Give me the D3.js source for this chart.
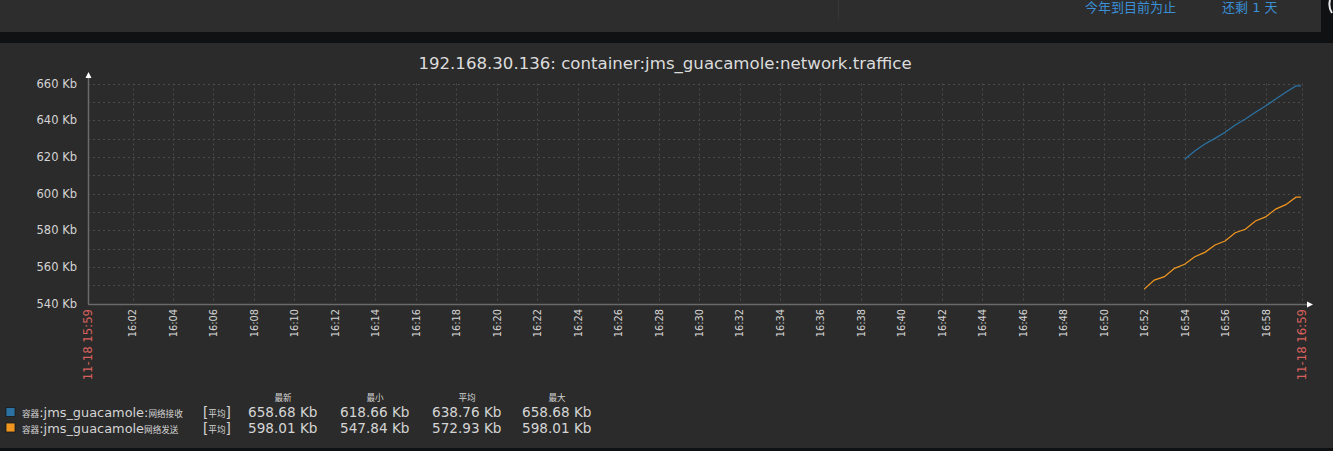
<!DOCTYPE html>
<html>
<head>
<meta charset="utf-8">
<script src="https://cdn.jsdelivr.net/npm/d3@7"></script>
<style>
  html, body { margin: 0; padding: 0; background: #0f1113; }
  svg { display: block; }
  text { font-family: "DejaVu Sans", "Noto Sans CJK SC", sans-serif; }
</style>
</head>
<body>
<svg id="chart" width="1333" height="451"></svg>
<script>
// ---------------- data ----------------
const chartTitle = "192.168.30.136: container:jms_guacamole:network.traffice";
const timeStart = "2023-11-18 15:59:48";
const timeEnd = "2023-11-18 16:59:48";
const startLabel = "11-18 15:59";
const endLabel = "11-18 16:59";
const xTickTimes = ["16:02","16:04","16:06","16:08","16:10","16:12","16:14","16:16","16:18","16:20",
  "16:22","16:24","16:26","16:28","16:30","16:32","16:34","16:36","16:38","16:40",
  "16:42","16:44","16:46","16:48","16:50","16:52","16:54","16:56","16:58"];
const yTicks = [540, 560, 580, 600, 620, 640, 660];
const yMinorTicks = [550, 570, 590, 610, 630, 650];
const yDomain = [540, 660];

// legend names split into [cjk, latin, cjk] parts
const seriesNameParts = [
  ["容器", ":jms_guacamole:", "网络接收"],
  ["容器", ":jms_guacamole", "网络发送"]
];
const seriesFunc = ["平均", "平均"];
const statHeaders = ["最新", "最小", "平均", "最大"];
const statValues = [
  ["658.68 Kb", "618.66 Kb", "638.76 Kb", "658.68 Kb"],
  ["598.01 Kb", "547.84 Kb", "572.93 Kb", "598.01 Kb"]
];

const blueTimes = ["16:54:00","16:54:30","16:55:00","16:55:30","16:56:00","16:56:30","16:57:00",
  "16:57:30","16:58:00","16:58:30","16:59:00","16:59:30","16:59:45"];
const blueValues = [618.66, 623.2, 627.0, 630.1, 633.4, 637.4, 640.6, 644.3, 647.7, 651.5, 655.2, 658.68, 658.68];

const orangeTimes = ["16:52:00","16:52:30","16:53:00","16:53:30","16:54:00","16:54:30","16:55:00",
  "16:55:30","16:56:00","16:56:30","16:57:00","16:57:30","16:58:00","16:58:30","16:59:00","16:59:30","16:59:45"];
const orangeValues = [547.84, 552.8, 554.6, 559.2, 561.4, 565.5, 567.9, 571.9, 574.1, 578.6, 580.5,
  585.0, 587.2, 591.5, 593.9, 598.01, 598.01];

const topLinks = ["今年到目前为止", "还剩 1 天"];

// ---------------- styles ----------------
const colors = { blue: "#2b72a3", orange: "#f0951f" };
const seriesColors = [colors.blue, colors.orange];

// ---------------- drawing ----------------
const svg = d3.select("#chart");
const parseFull = d3.timeParse("%Y-%m-%d %H:%M:%S");
const parseHM = s => parseFull("2023-11-18 " + s + ":00");
const parseHMS = s => parseFull("2023-11-18 " + s);

// backgrounds
svg.append("rect").attr("x", 0).attr("y", 0).attr("width", 1333).attr("height", 451).attr("fill", "#0f1113");
svg.append("rect").attr("x", 0).attr("y", 0).attr("width", 1321).attr("height", 32).attr("fill", "#2d2d2d");
svg.append("line").attr("x1", 838.5).attr("x2", 838.5).attr("y1", 0).attr("y2", 20).attr("stroke", "#363636");
svg.append("rect").attr("x", 0).attr("y", 43).attr("width", 1333).attr("height", 405).attr("fill", "#2b2b2b");
svg.append("path").attr("d", "M1330,0 A16,16 0 0 0 1332,13").attr("fill", "none").attr("stroke", "#e8e8e8").attr("stroke-width", 2);

svg.append("text").attr("x", 1085).attr("y", 12).attr("font-size", 13).attr("fill", "#3a8fd6")
  .text(topLinks[0]);
svg.append("text").attr("x", 1222).attr("y", 12).attr("font-size", 13).attr("fill", "#3a8fd6")
  .text(topLinks[1]);

const x = d3.scaleTime().domain([parseFull(timeStart), parseFull(timeEnd)]).range([88, 1302]);
const y = d3.scaleLinear().domain(yDomain).range([303.5, 83.5]);

// title
svg.append("text").attr("x", 665).attr("y", 69).attr("text-anchor", "middle")
  .attr("font-size", 16.6).attr("fill", "#dcdcdc").text(chartTitle);

// grid
const grid = svg.append("g").attr("stroke", "#4b4b4b").attr("stroke-dasharray", "2,3").attr("stroke-width", 1);
grid.selectAll("line.h").data(yTicks.concat(yMinorTicks).filter(v => v !== 540)).join("line")
  .attr("x1", 88).attr("x2", 1302)
  .attr("y1", d => Math.round(y(d)) + 0.5).attr("y2", d => Math.round(y(d)) + 0.5);
grid.selectAll("line.v").data(xTickTimes.map(parseHM).concat([parseFull(timeEnd)])).join("line")
  .attr("x1", d => Math.round(x(d)) + 0.5).attr("x2", d => Math.round(x(d)) + 0.5)
  .attr("y1", 83.5).attr("y2", 303.5);

// y axis labels
const yAxis = d3.axisLeft(y).tickValues(yTicks).tickFormat(d => d + " Kb").tickSize(0).tickPadding(11);
const gy = svg.append("g").attr("transform", "translate(88,0)").call(yAxis);
gy.select(".domain").remove();
gy.selectAll("text").attr("font-size", 11.5).attr("fill", "#d4d4d4").attr("font-family", "DejaVu Sans");

// axis lines with arrows
svg.append("line").attr("x1", 88.5).attr("x2", 88.5).attr("y1", 78).attr("y2", 304)
  .attr("stroke", "#6a6a6a").attr("stroke-width", 1.5);
svg.append("line").attr("x1", 88).attr("x2", 1307).attr("y1", 304.5).attr("y2", 304.5)
  .attr("stroke", "#6a6a6a").attr("stroke-width", 1.5);
svg.append("path").attr("d", "M85.5,78 L88.5,72 L91.5,78 Z").attr("fill", "#ffffff");
svg.append("path").attr("d", "M1307,301.5 L1313,304.5 L1307,307.5 Z").attr("fill", "#ffffff");

// x axis labels
const xAxis = d3.axisBottom(x).tickValues(xTickTimes.map(parseHM)).tickFormat(d3.timeFormat("%H:%M")).tickSize(0);
const gx = svg.append("g").attr("transform", "translate(0,304)").call(xAxis);
gx.select(".domain").remove();
gx.selectAll("text")
  .attr("font-size", 9.8).attr("fill", "#d4d4d4").attr("font-family", "DejaVu Sans")
  .attr("transform", "rotate(-90)")
  .attr("x", -5).attr("y", 0).attr("dy", "0.35em")
  .attr("text-anchor", "end");

const edge = svg.append("g");
[[parseFull(timeStart), startLabel], [parseFull(timeEnd), endLabel]].forEach(([t, lbl]) => {
  edge.append("text")
    .attr("transform", `translate(${x(t)},309) rotate(-90)`)
    .attr("dy", "0.35em").attr("text-anchor", "end")
    .attr("font-size", 11.7).attr("fill", "#d8605c").text(lbl);
});

// lines
const line = d3.line().x(d => x(d[0])).y(d => y(d[1]));
const blueData = blueTimes.map((t, i) => [parseHMS(t), blueValues[i]]);
const orangeData = orangeTimes.map((t, i) => [parseHMS(t), orangeValues[i]]);
svg.append("path").datum(blueData).attr("d", line).attr("fill", "none")
  .attr("stroke", colors.blue).attr("stroke-width", 1.3);
svg.append("path").datum(orangeData).attr("d", line).attr("fill", "none")
  .attr("stroke", colors.orange).attr("stroke-width", 1.3);

// legend
const cjkSize = 8.6;
const lg = svg.append("g").attr("font-size", 13.6).attr("fill", "#d4d4d4");
const colX = [248, 340, 432, 522];
const colW = 70;
statHeaders.forEach((h, i) => {
  lg.append("text").attr("x", colX[i] + colW / 2).attr("y", 401).attr("text-anchor", "middle")
    .attr("font-size", cjkSize).text(h);
});
seriesNameParts.forEach((parts, r) => {
  const base = 417 + r * 15.5;
  lg.append("rect").attr("x", 6).attr("y", base - 9.5).attr("width", 9).attr("height", 9)
    .attr("fill", seriesColors[r]).attr("stroke", "#1a1a1a").attr("stroke-width", 0.8);
  const t = lg.append("text").attr("x", 22).attr("y", base);
  t.append("tspan").attr("font-size", cjkSize).text(parts[0]);
  t.append("tspan").attr("font-size", 12.9).text(parts[1]);
  t.append("tspan").attr("font-size", cjkSize).text(parts[2]);
  const f = lg.append("text").attr("x", 203).attr("y", base);
  f.append("tspan").text("[");
  f.append("tspan").attr("font-size", cjkSize).text(seriesFunc[r]);
  f.append("tspan").text("]");
  statValues[r].forEach((v, i) => {
    lg.append("text").attr("x", colX[i]).attr("y", base).text(v);
  });
});
</script>
</body>
</html>
